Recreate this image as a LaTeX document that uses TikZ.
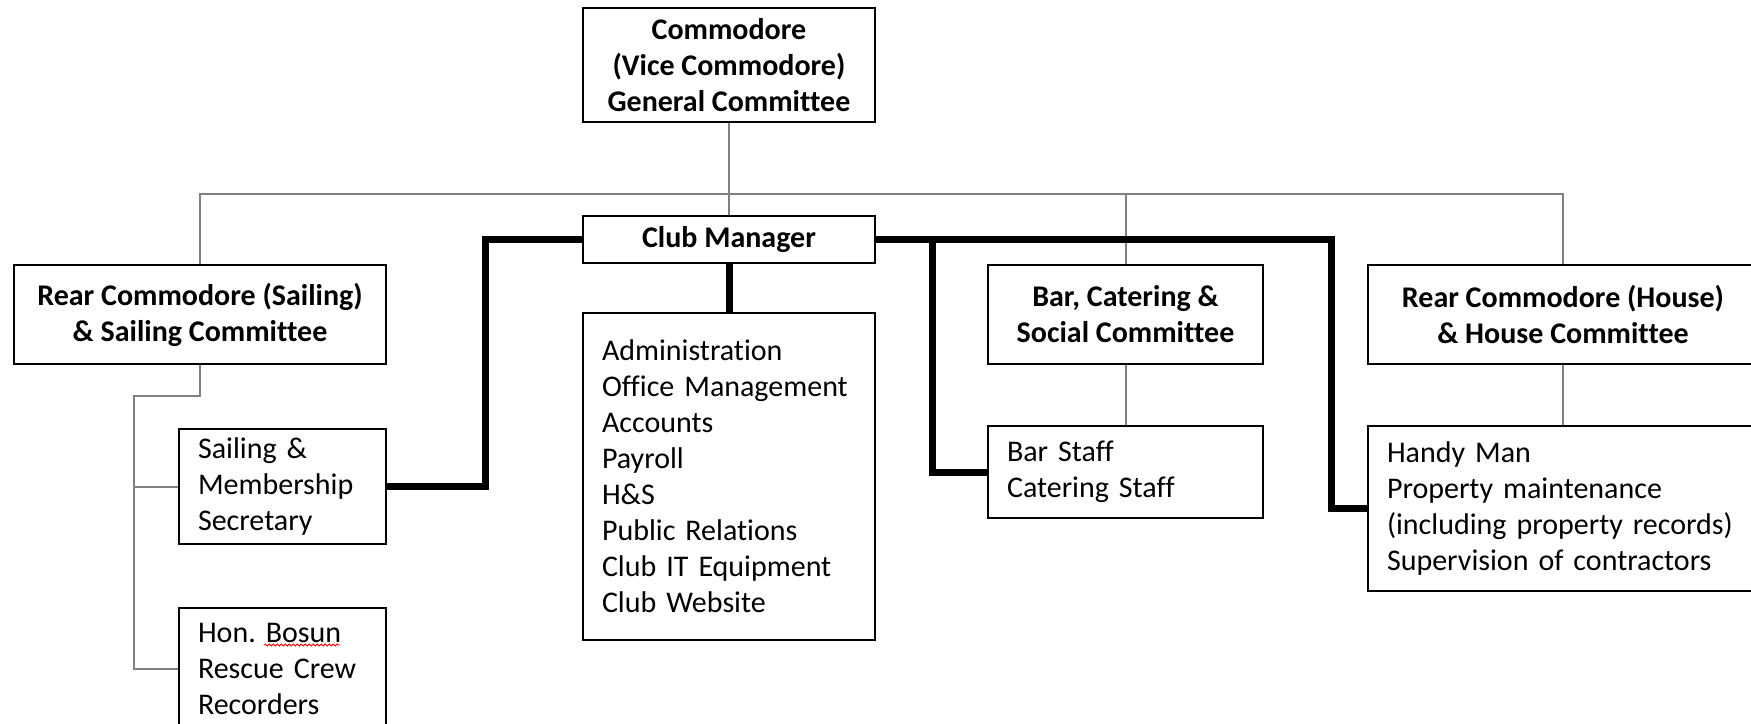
\documentclass[tikz,border=0pt]{standalone}
\usepackage{fontspec}
\setmainfont{Carlito}[RawFeature={-liga}]
\usetikzlibrary{decorations.pathmorphing}
\frenchspacing
\begin{document}
\begin{tikzpicture}[x=1pt,y=-1pt,
  box/.style={draw=black, line width=2.5pt, inner sep=0pt, fill=white,
    font=\fontsize{30}{36}\selectfont},
  head/.style={box, align=center, font=\fontsize{30}{36}\selectfont\bfseries},
  lst/.style={box, align=left, inner xsep=19pt, inner ysep=0pt},
  grey/.style={draw=black!50, line width=2pt},
  mgr/.style={draw=black, line width=7pt, line join=miter}]
\useasboundingbox (0,0) rectangle (1751,723);

% nodes
\node[head, minimum width=292pt, minimum height=114pt] (com) at (729,65)
  {Commodore\\(Vice Commodore)\\General Committee};
\node[head, minimum width=292pt, minimum height=47pt] (cm) at (729,239.5) {Club Manager};
\node[lst, text width=254pt, minimum height=327pt] (admin) at (729,476.5)
  {Administration\\Office Management\\Accounts\\Payroll\\H\&S\\Public Relations\\Club IT Equipment\\Club Website};
\node[head, minimum width=372pt, minimum height=99pt] (rcs) at (200,314.5)
  {Rear Commodore (Sailing)\\\& Sailing Committee};
\node[head, minimum width=275pt, minimum height=99pt] (bcs) at (1125.5,314.5)
  {Bar, Catering \&\\Social Committee};
\node[head, minimum width=390pt, minimum height=99pt] (rch) at (1563,314.5)
  {Rear Commodore (House)\\\& House Committee};
\node[lst, text width=169pt, minimum height=115pt] (sms) at (282.5,486.5)
  {Sailing \&\\Membership\\Secretary};
\node[lst, text width=169pt, minimum height=122pt] (bos) at (282.5,669)
  {Hon. Bosun\\Rescue Crew\\Recorders};
\node[lst, text width=237pt, minimum height=92pt] (bst) at (1125.5,472)
  {Bar Staff\\Catering Staff};
\node[lst, text width=352pt, minimum height=165pt] (hm) at (1563,508.5)
  {Handy Man\\Property maintenance\\(including property records)\\Supervision of contractors};

% coordinates
\coordinate (bus) at (729,194);
\coordinate (sj) at (134,396);
\coordinate (tl) at (485,0);
\coordinate (tr) at (1331,0);
\coordinate (tb) at (932,0);

% grey connectors
\draw[grey] (com.south) -- (cm.north);
\draw[grey] (rcs.north) |- (bus) -| (rch.north);
\draw[grey] (bus) -| (bcs.north);
\draw[grey] (rcs.south) |- (sj) |- (bos.west);
\draw[grey] (sj) |- (sms.west);
\draw[grey] (bcs.south) -- (bst.north);
\draw[grey] (rch.south) -- (hm.north);

% manager connectors
\draw[mgr] (cm.south) -- (admin.north);
\draw[mgr] (cm.west) -| (tl |- sms.east) -- (sms.east);
\draw[mgr] (cm.east) -| (tr |- hm.west) -- (hm.west);
\draw[mgr] (tb |- cm.east) |- (bst.west);

% spell-check underline
\draw[red, line width=0.8pt, decorate, decoration={snake, amplitude=1pt, segment length=4pt}]
  (264,645) -- (340,645);
\end{tikzpicture}
\end{document}
